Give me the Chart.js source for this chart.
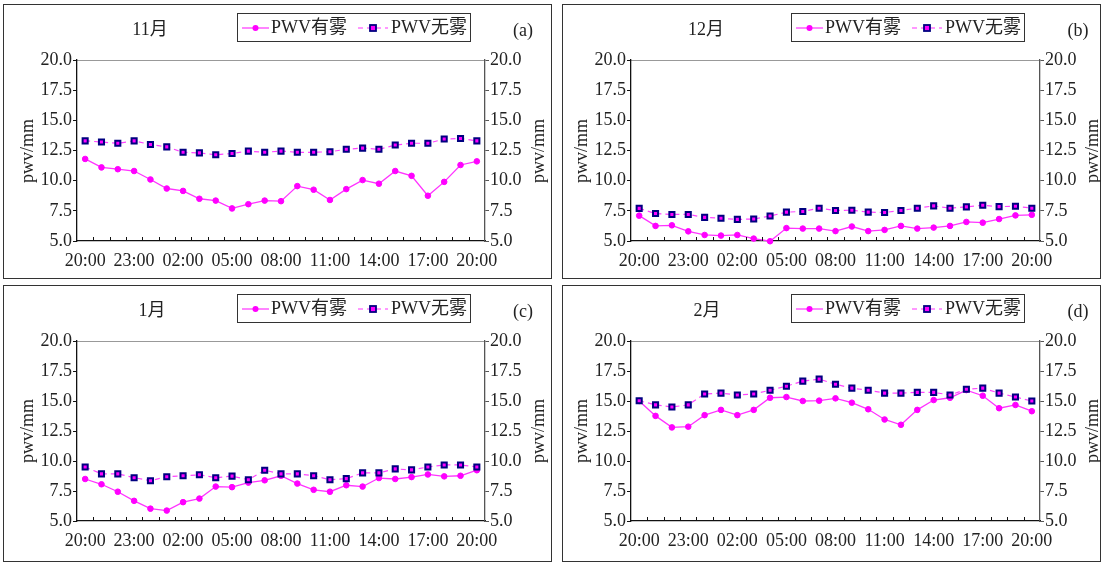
<!DOCTYPE html>
<html><head><meta charset="utf-8">
<script src="https://cdn.jsdelivr.net/npm/chart.js@4.4.1/dist/chart.umd.min.js"></script>
<style>
html,body{margin:0;padding:0;background:#fff;}
body{width:1101px;height:562px;position:relative;overflow:hidden;font-family:"Liberation Serif","Noto Sans CJK SC",serif;color:#222;}
.panel{position:absolute;box-sizing:border-box;border:1.5px solid #333;}
.cw{position:absolute;}
.t{position:absolute;font-size:18px;line-height:20px;white-space:nowrap;transform:translate(-50%,-50%);}
.lg{position:absolute;box-sizing:border-box;border:1.3px solid #333;height:29px;font-size:18px;white-space:nowrap;background:#fff;}
.lg span{position:absolute;top:3px;line-height:20px;}
.lg svg{position:absolute;top:9px;}
.yt{position:absolute;font-size:18px;line-height:20px;transform:translate(-50%,-50%) rotate(-90deg);white-space:nowrap;}
</style></head>
<body>
<script>
// ---- data ----
const hours = ['20:00','21:00','22:00','23:00','00:00','01:00','02:00','03:00','04:00','05:00','06:00','07:00','08:00',
  '09:00','10:00','11:00','12:00','13:00','14:00','15:00','16:00','17:00','18:00','19:00','20:00'];
const seriesNames = ['PWV有雾','PWV无雾'];
const monthTitles = ['11月','12月','1月','2月'];
const panelTags = ['(a)','(b)','(c)','(d)'];
const yTicks = [5.0,7.5,10.0,12.5,15.0,17.5,20.0];
const novFog   = [11.8,11.1,10.95,10.8,10.1,9.35,9.15,8.5,8.35,7.7,8.05,8.35,8.3,9.55,9.25,8.4,9.3,10.05,9.75,10.8,10.4,8.75,9.9,11.3,11.6];
const novClear = [13.3,13.2,13.1,13.3,13.0,12.8,12.35,12.3,12.15,12.25,12.45,12.35,12.45,12.35,12.35,12.4,12.6,12.7,12.6,12.95,13.1,13.1,13.45,13.5,13.3];
const decFog   = [7.1,6.25,6.3,5.8,5.5,5.45,5.5,5.2,4.98,6.07,6.03,6.03,5.82,6.2,5.82,5.92,6.25,6.03,6.11,6.25,6.58,6.52,6.82,7.12,7.17];
const decClear = [7.7,7.28,7.2,7.2,6.96,6.88,6.79,6.82,7.07,7.39,7.45,7.72,7.53,7.55,7.39,7.36,7.53,7.72,7.91,7.72,7.83,7.96,7.85,7.88,7.72];
const janFog   = [8.5,8.06,7.44,6.68,6.03,5.87,6.57,6.87,7.87,7.82,8.2,8.39,8.77,8.12,7.6,7.44,7.98,7.87,8.58,8.5,8.66,8.88,8.72,8.77,9.23];
const janClear = [9.5,8.93,8.93,8.61,8.36,8.69,8.77,8.85,8.61,8.74,8.44,9.23,8.93,8.93,8.77,8.44,8.53,9.01,9.01,9.34,9.26,9.5,9.67,9.67,9.5];
const febFog   = [15.0,13.76,12.8,12.86,13.82,14.26,13.82,14.26,15.27,15.33,15.0,15.03,15.22,14.86,14.31,13.46,13.02,14.26,15.08,15.27,15.91,15.44,14.4,14.67,14.15];
const febClear = [15.02,14.68,14.5,14.68,15.58,15.66,15.5,15.58,15.9,16.23,16.66,16.82,16.4,16.07,15.9,15.66,15.66,15.72,15.72,15.5,15.98,16.07,15.66,15.33,15.0];
const fogSeries = [novFog, decFog, janFog, febFog];
const clearSeries = [novClear, decClear, janClear, febClear];

// ---- layout (page px) ----
const boxes = [
  {L:3,T:4,W:549,H:275, area:{l:77,r:485,t:60,b:241}, title:150, lg:237, tag:523, ytL:27, ytR:538},
  {L:562,T:4,W:539,H:275, area:{l:631,r:1040,t:60,b:241}, title:706, lg:791, tag:1078, ytL:581, ytR:1092},
  {L:3,T:285,W:549,H:277, area:{l:77,r:485,t:341,b:521}, title:152, lg:237, tag:523, ytL:27, ytR:538},
  {L:562,T:285,W:539,H:277, area:{l:631,r:1040,t:341,b:521}, title:707, lg:791, tag:1078, ytL:581, ytR:1092}
];
const FONT = {family:"'Liberation Serif','Noto Sans CJK SC',serif", size:18};
const TXT = '#222';
const LEFT_W = 50, RIGHT_W = 45, X_H = 30;

const innerTicks = {
  id:'innerTicks',
  afterDraw(chart){
    const x = chart.scales.x, ctx = chart.ctx, b = chart.chartArea.bottom;
    ctx.save(); ctx.strokeStyle = '#111'; ctx.lineWidth = 1; ctx.beginPath();
    for (let i = 0; i < hours.length - 1; i++) {
      const px = Math.round((x.getPixelForValue(i) + x.getPixelForValue(i + 1)) / 2) + 0.5;
      ctx.moveTo(px, b); ctx.lineTo(px, b - 4);
    }
    ctx.stroke(); ctx.restore();
  }
};

function legendHTML(left, top){
  return `<div class="lg" style="left:${left}px;top:${top}px;width:234px">
  <svg width="27" height="10" style="left:4px"><line x1="0" y1="5" x2="27" y2="5" stroke="#ff33ff" stroke-width="1.2"/><circle cx="13.5" cy="5" r="3" fill="#ff00ff"/></svg>
  <span style="left:33px">${seriesNames[0]}</span>
  <svg width="30" height="10" style="left:120px"><line x1="0" y1="5" x2="30" y2="5" stroke="#ff33ff" stroke-width="1.2" stroke-dasharray="5,4"/><rect x="12" y="2" width="6" height="6" fill="#ff00ff" stroke="#000080" stroke-width="1.8"/></svg>
  <span style="left:153px">${seriesNames[1]}</span></div>`;
}

boxes.forEach((bx, k) => {
  const p = document.createElement('div');
  p.className = 'panel';
  Object.assign(p.style, {left:bx.L+'px', top:bx.T+'px', width:bx.W+'px', height:bx.H+'px'});
  document.body.appendChild(p);

  const cw = document.createElement('div');
  cw.className = 'cw';
  Object.assign(cw.style, {left:bx.L+'px', top:bx.T+'px', width:bx.W+'px', height:bx.H+'px'});
  const cv = document.createElement('canvas');
  cv.width = bx.W; cv.height = bx.H;
  cv.style.width = bx.W+'px'; cv.style.height = bx.H+'px';
  cw.appendChild(cv);
  document.body.appendChild(cw);

  const a = bx.area;
  const top = bx.T + 25;
  const extra = document.createElement('div');
  extra.innerHTML =
    `<div class="t" style="left:${bx.title}px;top:${top}px">${monthTitles[k]}</div>` +
    legendHTML(bx.lg, bx.T + 9) +
    `<div class="t" style="left:${bx.tag}px;top:${top+1}px">${panelTags[k]}</div>` +
    `<div class="yt" style="left:${bx.ytL}px;top:${(a.t+a.b)/2}px">pwv/mm</div>` +
    `<div class="yt" style="left:${bx.ytR}px;top:${(a.t+a.b)/2}px">pwv/mm</div>`;
  document.body.appendChild(extra);

  const pad = {
    top: a.t - bx.T,
    left: (a.l - bx.L) - LEFT_W,
    right: (bx.L + bx.W - a.r) - RIGHT_W,
    bottom: (bx.T + bx.H - a.b) - X_H
  };
  const yCommon = (pos, col) => ({
    position: pos, min: 5, max: 20,
    afterBuildTicks: s => { s.ticks = yTicks.map(v => ({value: v})); },
    ticks: {stepSize: 2.5, padding: 1, font: FONT, color: TXT, callback: v => Number(v).toFixed(1)},
    grid: {drawOnChartArea: false, drawTicks: true, tickLength: 4, color: col, lineWidth: 1},
    border: {display: true, color: col, width: 1.3},
    afterFit: s => { s.width = pos === 'left' ? LEFT_W : RIGHT_W; }
  });

  new Chart(cv, {
    type: 'line',
    data: {
      labels: hours,
      datasets: [
        {label: seriesNames[0], data: fogSeries[k], xAxisID: 'x', yAxisID: 'y', order: 1,
         borderColor: '#ff33ff', borderWidth: 1.3, tension: 0, clip: false,
         pointStyle: 'circle', pointRadius: 2.8, pointBackgroundColor: '#ff00ff', pointBorderColor: '#ff00ff', pointBorderWidth: 1},
        {label: seriesNames[1], data: clearSeries[k], xAxisID: 'x', yAxisID: 'y', order: 0,
         borderColor: '#ff44ff', borderWidth: 1.2, borderDash: [5, 4], tension: 0, clip: false,
         pointStyle: 'rect', pointRadius: 3.6, pointBackgroundColor: '#ff00ff', pointBorderColor: '#000080', pointBorderWidth: 2}
      ]
    },
    options: {
      responsive: false, animation: false, devicePixelRatio: 1,
      layout: {padding: pad},
      plugins: {legend: {display: false}, tooltip: {enabled: false}, title: {display: false}},
      scales: {
        x: {type: 'category', position: 'bottom', offset: true,
            grid: {display: false},
            border: {display: true, color: '#111', width: 1.3},
            ticks: {autoSkip: false, maxRotation: 0, minRotation: 0, padding: 1, font: FONT, color: TXT,
                    callback: (v, i) => (i % 3 === 0 ? hours[i] : '')},
            afterFit: s => { s.height = X_H; }},
        xTop: {type: 'category', position: 'top', offset: true,
            grid: {display: false}, ticks: {display: false},
            border: {display: true, color: '#999', width: 1},
            afterFit: s => { s.height = 0; }},
        y: yCommon('left', '#111'),
        y2: yCommon('right', '#555')
      }
    },
    plugins: [innerTicks]
  });
});
</script>
</body></html>
